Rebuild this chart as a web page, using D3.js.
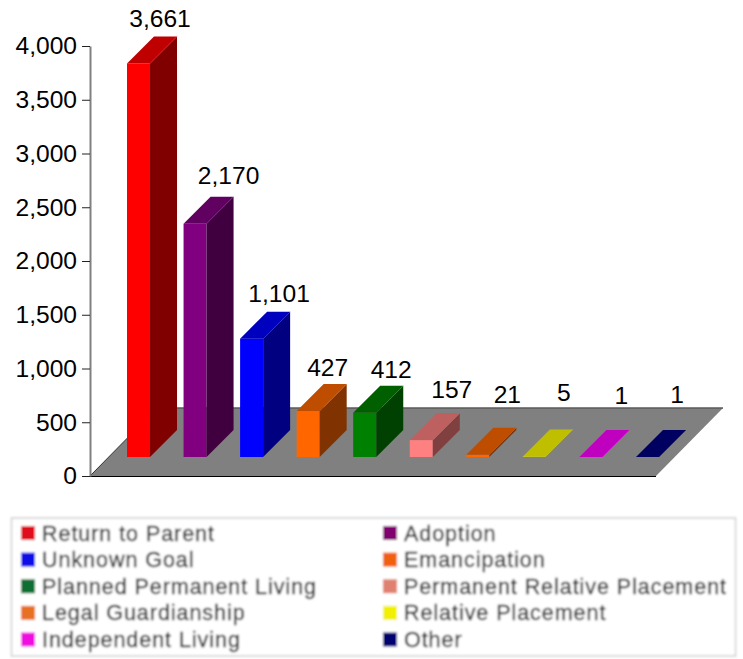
<!DOCTYPE html>
<html>
<head>
<meta charset="utf-8">
<style>
  html, body { margin: 0; padding: 0; background: #fff; }
  svg { display: block; }
  text { font-family: "Liberation Sans", Arial, sans-serif; }
</style>
<script src="https://cdn.jsdelivr.net/npm/d3@7"></script>
</head>
<body>
<script>
// Case goals and the number of cases in each
const goals = ["Return to Parent", "Adoption", "Unknown Goal", "Emancipation",
  "Planned Permanent Living", "Permanent Relative Placement", "Legal Guardianship",
  "Relative Placement", "Independent Living", "Other"];
const counts = [3661, 2170, 1101, 427, 412, 157, 21, 5, 1, 1];
const axisTicks = [0, 500, 1000, 1500, 2000, 2500, 3000, 3500, 4000];

// Face colours for each bar, and the matching legend swatches
const frontColors = ["#ff0000", "#800080", "#0000ff", "#ff6600", "#008000", "#ff8080", "#ff6600", "#ffff00", "#ff00ff", "#000080"];
const swatchColors = ["#e0101c", "#800070", "#0808e8", "#f06010", "#107030", "#e08070", "#e87020", "#f0f000", "#f010e0", "#000070"];

// Fine placement of the value labels relative to each bar
const labelShiftX = [-8, 4, -2, -10, -3, 1, 0, 0, 1, 0];
const labelGap = [9, 13, 10, 8, 8, 15, 25, 28, 26, 27];

const W = 743, H = 659;
const depth = 27;        // oblique offset of a bar's back face
const floorDx = 67, floorDy = 68;
const barLift = 19;      // bars stand this far behind the front floor edge

const svg = d3.select("body").append("svg").attr("width", W).attr("height", H);

const y = d3.scaleLinear().domain([0, 4000]).range([476, 46]);
const x = d3.scaleBand().domain(goals).range([127, 659]).paddingInner(0.593);

const poly = pts => pts.map(p => p.join(",")).join(" ");

// Floor of the 3D plot
const floorL = 90, floorR = 656, floorY = y(0);
svg.append("polygon")
  .attr("points", poly([[floorL, floorY], [floorR, floorY], [floorR + floorDx, floorY - floorDy], [floorL + floorDx, floorY - floorDy]]))
  .attr("fill", "#808080");
svg.append("line").attr("x1", floorL + floorDx).attr("x2", floorR + floorDx)
  .attr("y1", floorY - floorDy).attr("y2", floorY - floorDy)
  .attr("stroke", "#5a5a5a").attr("stroke-width", 1.5);
svg.append("line").attr("x1", floorL).attr("x2", floorR)
  .attr("y1", floorY + 0.5).attr("y2", floorY + 0.5)
  .attr("stroke", "#000").attr("stroke-width", 1);
svg.append("line").attr("x1", floorL).attr("y1", floorY)
  .attr("x2", floorL + floorDx).attr("y2", floorY - floorDy)
  .attr("stroke", "#333").attr("stroke-width", 1);

// Value axis
const axis = svg.append("g").attr("transform", `translate(${floorL},0)`)
  .call(d3.axisLeft(y).tickValues(axisTicks).tickFormat(d3.format(",")).tickSize(8).tickSizeOuter(0).tickPadding(5));
axis.select(".domain").attr("stroke", "#808080").attr("stroke-width", 2);
axis.selectAll(".tick line").attr("stroke", "#222").attr("stroke-width", 1);
axis.selectAll(".tick text").attr("font-size", 24.6)
  .attr("font-family", '"Liberation Sans", Arial, sans-serif').attr("fill", "#000");

// Bars: front, side and top faces
const bars = svg.append("g").selectAll("g").data(goals).join("g");
const shade = (c, k) => { const r = d3.rgb(c); return d3.rgb(r.r * k, r.g * k, r.b * k).formatHex(); };
bars.each(function (g, i) {
  const sel = d3.select(this);
  const l = x(g), r = l + x.bandwidth();
  const b = y(0) - barLift, t = y(counts[i]) - barLift;
  sel.append("rect").attr("x", l).attr("y", t).attr("width", r - l).attr("height", b - t)
    .attr("fill", frontColors[i]);
  sel.append("polygon")
    .attr("points", poly([[r, b], [r + depth, b - depth], [r + depth, t - depth], [r, t]]))
    .attr("fill", shade(frontColors[i], 0.5));
  sel.append("polygon")
    .attr("points", poly([[l, t], [r, t], [r + depth, t - depth], [l + depth, t - depth]]))
    .attr("fill", shade(frontColors[i], 0.75));
  sel.append("line").attr("x1", r).attr("y1", t).attr("x2", r + depth).attr("y2", t - depth)
    .attr("stroke", frontColors[i]).attr("stroke-opacity", 0.45).attr("stroke-width", 0.6);
});

// Value labels above each bar
svg.append("g").selectAll("text").data(goals).join("text")
  .attr("x", (g, i) => x(g) + 41 + labelShiftX[i])
  .attr("y", (g, i) => y(counts[i]) - barLift - depth - labelGap[i])
  .attr("text-anchor", "middle").attr("font-size", 24.6).attr("fill", "#000")
  .text((g, i) => d3.format(",")(counts[i]));

// Legend, softened the way it appears in the finished chart
const defs = svg.append("defs");
defs.append("filter").attr("id", "soft").attr("x", "-5%").attr("y", "-5%").attr("width", "110%").attr("height", "110%")
  .append("feGaussianBlur").attr("stdDeviation", 0.9);

const legend = svg.append("g").attr("filter", "url(#soft)");
legend.append("rect").attr("x", 11.5).attr("y", 518).attr("width", 724).attr("height", 138)
  .attr("fill", "#fff").attr("stroke", "#d0d0d0").attr("stroke-width", 1.5);

const legendCol = d3.scaleOrdinal().domain([0, 1]).range([20, 382]);
const legendRow = d3.scalePoint().domain(d3.range(5)).range([533, 639.5]);
const items = legend.selectAll("g").data(goals).join("g")
  .attr("transform", (g, i) => `translate(${legendCol(i % 2)},${legendRow(Math.floor(i / 2))})`);
items.append("rect").attr("x", 1).attr("y", -7).attr("width", 14).attr("height", 14)
  .attr("fill", (g, i) => swatchColors[i]);
items.append("text").attr("x", 22).attr("y", 7.5).attr("font-size", 21.5)
  .attr("letter-spacing", 0.95).attr("fill", "#303030")
  .attr("stroke", "#303030").attr("stroke-width", 0.35).text(g => g);
</script>
</body>
</html>
